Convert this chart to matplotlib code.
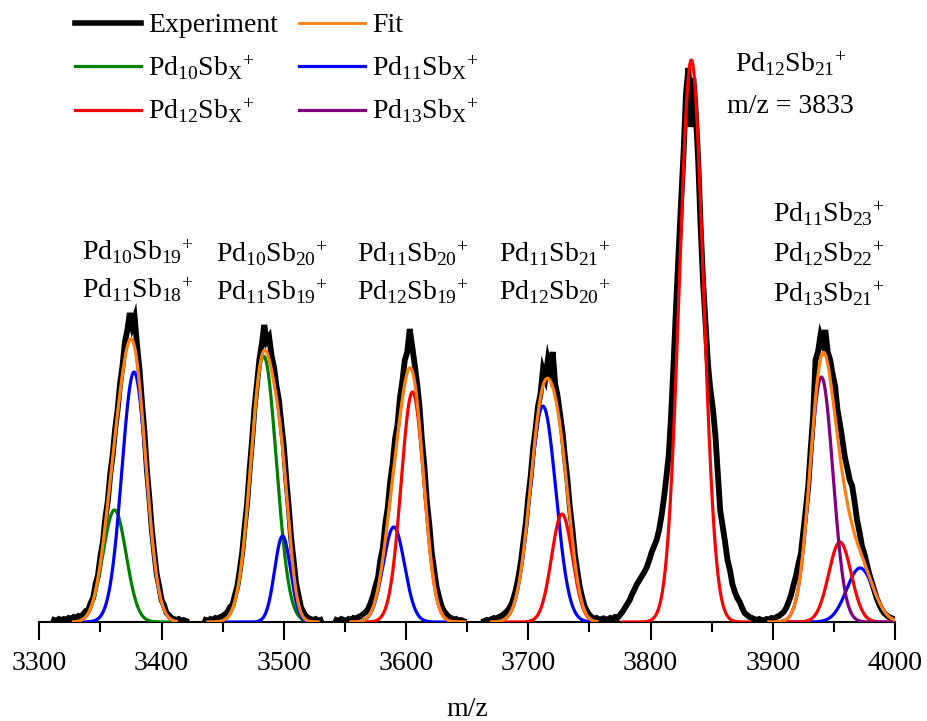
import numpy as np
import matplotlib
matplotlib.use("Agg")
import matplotlib.pyplot as plt

plt.rcParams['font.family'] = ['Liberation Serif', 'DejaVu Serif']
plt.rcParams['mathtext.fontset'] = 'custom'
plt.rcParams['mathtext.rm'] = 'Liberation Serif'
plt.rcParams['mathtext.it'] = 'Liberation Serif:italic'

# measured spectrum, one block per cluster group, sampled every 2 m/z
exp_start = [3312, 3436, 3543, 3664, 3763, 3893]
exp_1 = [2, 1, 3, 2, 3, 2, 4, 3, 5, 4, 6, 5, 8, 11, 12, 19, 24, 38, 47, 66, 80, 104,
         121, 148, 167, 193, 212, 238, 256, 280, 292, 309, 296, 304, 276, 252, 219,
         190, 152, 124, 93, 70, 48, 36, 22, 17, 9, 7, 4, 3, 2, 3, 1, 2, 1]
exp_2 = [2, 1, 3, 2, 4, 3, 5, 6, 8, 10, 15, 17, 27, 36, 52, 70, 96, 119, 152, 181,
         214, 238, 262, 278, 297, 281, 285, 266, 255, 236, 222, 198, 176, 143, 116,
         84, 62, 39, 27, 15, 10, 6, 4, 3, 2, 3, 1, 2]
exp_3 = [2, 1, 3, 2, 1, 3, 2, 4, 3, 5, 6, 8, 10, 13, 19, 26, 36, 44, 62, 74, 98, 114,
         140, 158, 183, 197, 224, 241, 262, 270, 293, 276, 258, 239, 216, 182, 156,
         121, 98, 70, 52, 35, 25, 16, 11, 8, 5, 4, 2, 3, 1, 2, 1]
exp_4 = [1, 2, 1, 3, 4, 3, 5, 6, 8, 10, 13, 17, 24, 33, 45, 60, 80, 99, 125, 146,
         174, 193, 216, 228, 252, 244, 262, 251, 270, 238, 226, 208, 190, 165, 143,
         115, 94, 69, 52, 36, 25, 16, 11, 7, 5, 3, 4, 2, 3]
exp_5 = [3, 2, 4, 3, 5, 4, 7, 10, 14, 18, 22, 28, 33, 38, 42, 46, 50, 55, 62, 70,
         76, 82, 92, 106, 124, 145, 168, 210, 262, 318, 370, 420, 468, 528, 554, 495,
         544, 510, 462, 396, 340, 300, 258, 232, 214, 188, 150, 112, 96, 80, 62, 52,
         38, 30, 24, 20, 14, 9, 7, 5, 4, 3, 2, 3, 2]
exp_6 = [2, 3, 2, 4, 3, 5, 6, 8, 10, 14, 20, 27, 37, 46, 58, 68, 90, 112, 135, 172,
         205, 262, 270, 286, 278, 292, 270, 262, 248, 236, 212, 198, 182, 165, 154,
         142, 136, 120, 102, 90, 76, 68, 58, 48, 40, 32, 24, 18, 13, 9, 7, 5, 4, 3]
exp_blocks = [exp_1, exp_2, exp_3, exp_4, exp_5, exp_6]

# gaussian fit components: centre (m/z), height, width (m/z)
pd10_c = [3361.5, 3483.5]
pd10_h = [112, 266]
pd10_w = [9.5, 10.4]

pd11_c = [3377.5, 3499.0, 3590.0, 3712.0, 3971.5]
pd11_h = [250, 86, 95, 216, 54]
pd11_w = [10.0, 6.5, 8.7, 10.6, 11.0]

pd12_c = [3605.3, 3727.6, 3833.4, 3955.0]
pd12_h = [230, 108, 562, 80]
pd12_w = [9.3, 8.5, 9.8, 9.2]

pd13_c = [3939.8]
pd13_h = [245]
pd13_w = [9.5]

# m/z windows over which the fitted curves are drawn
fit_lo = [3328, 3438, 3555, 3670, 3777, 3897]
fit_hi = [3412, 3528, 3648, 3756, 3881, 4000]
has_fit = [True, True, True, True, False, True]


def gauss(x, c, h, w):
    return h * np.exp(-(x - c) ** 2 / (2 * w ** 2))


fig = plt.figure(figsize=(9.28, 7.21), dpi=100)
ax = fig.add_axes([0.0424, 0.1373, 0.922, 0.8488])

for start, vals in zip(exp_start, exp_blocks):
    mz = start + 2 * np.arange(len(vals))
    ax.plot(mz, vals, color='black', lw=4.2, solid_joinstyle='miter', zorder=2)

comps = [(pd10_c, pd10_h, pd10_w, 'green'),
         (pd11_c, pd11_h, pd11_w, 'blue'),
         (pd12_c, pd12_h, pd12_w, 'red'),
         (pd13_c, pd13_h, pd13_w, 'purple')]

for lo, hi, fit in zip(fit_lo, fit_hi, has_fit):
    x = np.linspace(lo, hi, 400)
    total = np.zeros_like(x)
    for cs, hs, ws, col in comps:
        for c, h, w in zip(cs, hs, ws):
            if lo <= c <= hi:
                y = gauss(x, c, h, w)
                total += y
                ax.plot(x, y, color=col, lw=2.3, zorder=3)
    if fit:
        ax.plot(x, total, color='#ff7f0e', lw=2.3, zorder=4)

ax.set_xlim(3300, 4000)
ax.set_ylim(0, 612)
for s in ['left', 'right', 'top']:
    ax.spines[s].set_visible(False)
ax.spines['bottom'].set_linewidth(1.5)
ax.set_yticks([])
ax.set_xticks(range(3300, 4001, 100))
ax.set_xticks(range(3350, 4000, 100), minor=True)
ax.tick_params(axis='x', which='major', direction='out', length=13, width=1.5,
               labelsize=20, pad=8)
ax.tick_params(axis='x', which='minor', direction='out', length=7, width=1.5)
ax.set_xlabel('m/z', fontsize=20, labelpad=15)

h_exp, = ax.plot([], [], color='black', lw=4)
h_fit, = ax.plot([], [], color='#ff7f0e', lw=2)
h10, = ax.plot([], [], color='green', lw=2.3)
h11, = ax.plot([], [], color='blue', lw=2.3)
h12, = ax.plot([], [], color='red', lw=2.3)
h13, = ax.plot([], [], color='purple', lw=2.3)
fig.legend([h_exp, h10, h12, h_fit, h11, h13],
           ['Experiment', r'Pd$_{10}$Sb$_{\mathrm{X}}$$^{+}$', r'Pd$_{12}$Sb$_{\mathrm{X}}$$^{+}$',
            'Fit', r'Pd$_{11}$Sb$_{\mathrm{X}}$$^{+}$', r'Pd$_{13}$Sb$_{\mathrm{X}}$$^{+}$'],
           ncol=2, loc='upper left', bbox_to_anchor=(75 / 928, 1 - 13 / 721),
           frameon=False, fontsize=20, handlelength=2.38, handletextpad=0.25,
           columnspacing=0.75, borderpad=0, borderaxespad=0, labelspacing=0.55)

labels = [
    (3380.8, [362, 324], [r'Pd$_{10}$Sb$_{19}$$^{+}$', r'Pd$_{11}$Sb$_{18}$$^{+}$']),
    (3489.8, [360, 322], [r'Pd$_{10}$Sb$_{20}$$^{+}$', r'Pd$_{11}$Sb$_{19}$$^{+}$']),
    (3605.6, [360, 322], [r'Pd$_{11}$Sb$_{20}$$^{+}$', r'Pd$_{12}$Sb$_{19}$$^{+}$']),
    (3721.6, [360, 322], [r'Pd$_{11}$Sb$_{21}$$^{+}$', r'Pd$_{12}$Sb$_{20}$$^{+}$']),
    (3914.5, [550, 509], [r'Pd$_{12}$Sb$_{21}$$^{+}$', 'm/z = 3833']),
    (3945.6, [400, 360, 320], [r'Pd$_{11}$Sb$_{23}$$^{+}$', r'Pd$_{12}$Sb$_{22}$$^{+}$',
                               r'Pd$_{13}$Sb$_{21}$$^{+}$']),
]
for xc, ys, txts in labels:
    for yy, t in zip(ys, txts):
        ax.text(xc, yy, t, ha='center', va='baseline', fontsize=20)

fig.savefig('out.png', dpi=100)
